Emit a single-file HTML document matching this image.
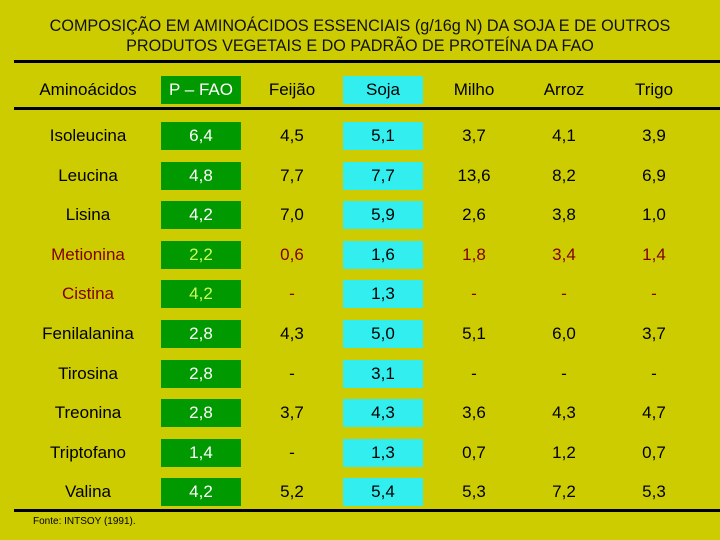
<!DOCTYPE html>
<html><head><meta charset="utf-8"><style>
body{margin:0;width:720px;height:540px;background:#cccc00;position:relative;overflow:hidden;font-family:"Liberation Sans",Arial,sans-serif;}
.t{position:absolute;left:0;width:720px;text-align:center;font-size:16.2px;color:#111;line-height:20px;}
.line{position:absolute;left:14px;width:706px;background:#000;}
.c{position:absolute;width:80px;height:28px;line-height:28px;text-align:center;font-size:17px;color:#000;}
.lab{position:absolute;width:150px;text-align:center;font-size:17px;line-height:28px;}
.src{position:absolute;left:33px;top:516px;font-size:10px;color:#000;}
</style></head><body>
<div class="t" style="top:16px">COMPOSIÇÃO EM AMINOÁCIDOS ESSENCIAIS (g/16g N) DA SOJA E DE OUTROS<br>PRODUTOS VEGETAIS E DO PADRÃO DE PROTEÍNA DA FAO</div>
<div class="line" style="top:60px;height:3px"></div>
<div class="line" style="top:107px;height:3px"></div>
<div class="line" style="top:509px;height:3px"></div>
<div class="src">Fonte: INTSOY (1991).</div>
<script>
const columns=["P – FAO","Feijão","Soja","Milho","Arroz","Trigo"];
const aminoacids=["Isoleucina","Leucina","Lisina","Metionina","Cistina","Fenilalanina","Tirosina","Treonina","Triptofano","Valina"];
const pfao=["6,4","4,8","4,2","2,2","4,2","2,8","2,8","2,8","1,4","4,2"];
const feijao=["4,5","7,7","7,0","0,6","-","4,3","-","3,7","-","5,2"];
const soja=["5,1","7,7","5,9","1,6","1,3","5,0","3,1","4,3","1,3","5,4"];
const milho=["3,7","13,6","2,6","1,8","-","5,1","-","3,6","0,7","5,3"];
const arroz=["4,1","8,2","3,8","3,4","-","6,0","-","4,3","1,2","7,2"];
const trigo=["3,9","6,9","1,0","1,4","-","3,7","-","4,7","0,7","5,3"];
const series=[pfao,feijao,soja,milho,arroz,trigo];
const colX=[201,292,383,474,564,654];
const rowY0=136,rowStep=39.6;
function cell(txt,cx,cy,ci,red){
  const d=document.createElement('div');d.className='c';
  d.style.left=(cx-40)+'px';d.style.top=(cy-14)+'px';d.textContent=txt;
  if(ci===0){d.style.background='#009900';d.style.color=red?'#ccff55':'#fff';}
  else if(ci===2){d.style.background='#33eeee';d.style.color='#000';}
  else if(red){d.style.color='#800000';}
  document.body.appendChild(d);return d;
}
const hy=90;
const hl=document.createElement('div');hl.className='lab';hl.style.left='13px';hl.style.top=(hy-14)+'px';hl.textContent='Aminoácidos';


document.body.appendChild(hl);
columns.forEach((c,i)=>{const d=cell(c,colX[i],hy,i,false);

});
aminoacids.forEach((a,r)=>{
  const y=rowY0+r*rowStep;const red=(a==="Metionina"||a==="Cistina");
  const l=document.createElement('div');l.className='lab';l.style.left='13px';l.style.top=(y-14)+'px';l.textContent=a;
  if(red)l.style.color='#800000';
  
  
  document.body.appendChild(l);
  series.forEach((s,i)=>{const d=cell(s[r],colX[i],y,i,red);
  
  });
});
</script>
</body></html>
